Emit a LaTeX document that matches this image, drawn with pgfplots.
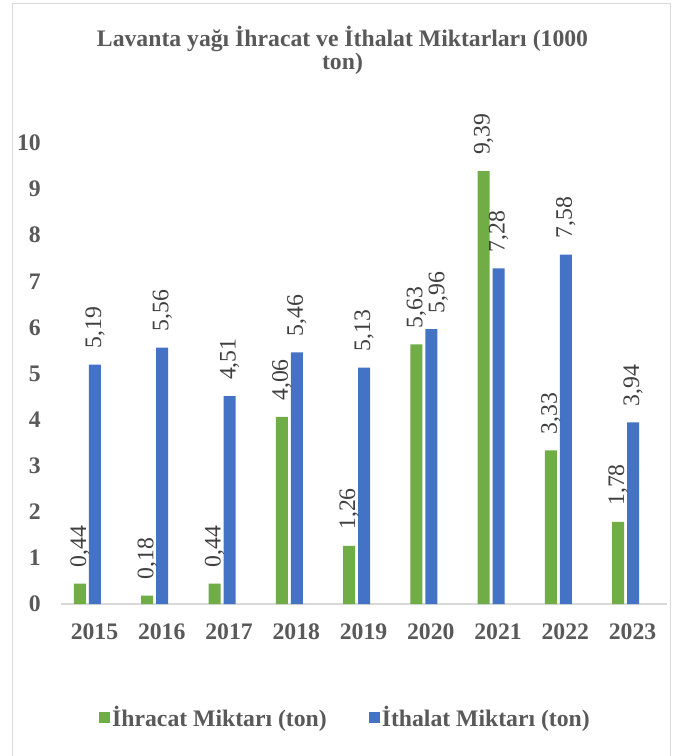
\documentclass[border=0pt]{standalone}
\usepackage{pgfplots}
\usepackage{pgfplotstable}
\pgfplotsset{compat=1.18}
\usepackage{fontspec}
\setmainfont{Liberation Serif}
\definecolor{grn}{HTML}{70AD47}
\definecolor{blu}{HTML}{4472C4}
\definecolor{txt}{HTML}{595959}
\definecolor{lbl}{HTML}{404040}
\definecolor{bord}{HTML}{D9D9D9}
\newcommand\F{\fontsize{23.7pt}{24pt}\selectfont}
\pgfplotsset{/pgfplots/ybar legend/.style={/pgfplots/legend image code/.code={\fill[##1] (0pt,-5.5pt) rectangle (11pt,5.5pt);}}}
\pgfplotstableread{
x y dx
0 0.44 0
1 0.18 0
2 0.44 0
3 4.06 0
4 1.26 0
5 5.63 0
6 9.39 0
7 3.33 0
8 1.78 0
}\ihracat
\pgfplotstableread{
x y dx
0 5.19 0
1 5.56 0
2 4.51 0
3 5.46 0
4 5.13 0
5 5.96 7
6 7.28 0
7 7.58 0
8 3.94 0
}\ithalat
\begin{document}
\begin{tikzpicture}
\useasboundingbox (0,0) rectangle (682pt,756pt);
\fill[white] (0,0) rectangle (682pt,756pt);
\draw[bord, line width=1.2pt] (12.5pt,-10pt) -- (12.5pt,752.5pt) -- (670.5pt,752.5pt) -- (670.5pt,-10pt);
\node[anchor=base, font=\F\bfseries, text=txt, inner sep=0pt] at (342.5pt,709pt) {Lavanta yağı İhracat ve İthalat Miktarları (1000};
\node[anchor=base, font=\F\bfseries, text=txt, inner sep=0pt] at (342.5pt,686pt) {ton)};
\begin{axis}[
  at={(61pt,152pt)}, anchor=south west, scale only axis,
  width=606pt, height=461pt,
  ybar=3pt, bar width=12pt,
  xmin=-0.394, xmax=8.617, ymin=0, ymax=10,
  clip=false,
  /pgf/number format/assume math mode=true,
  axis x line*=bottom, axis y line*=left,
  x axis line style={draw=bord, line width=1.5pt, -},
  y axis line style={draw=none},
  major tick length=0pt,
  xtick={0,...,8},
  xticklabels={2015,2016,2017,2018,2019,2020,2021,2022,2023},
  xticklabel style={font=\F\bfseries, text=txt, inner sep=0pt, yshift=-20pt, xshift=7pt},
  ytick={0,...,10},
  yticklabel style={font=\F\bfseries, text=txt, inner sep=0pt, xshift=-20pt, anchor=east},
  visualization depends on={\thisrow{dx} \as \dx},
  nodes near coords={\pgfmathprintnumber[fixed,fixed zerofill,precision=2,use comma,assume math mode=true]{\pgfplotspointmeta}},
  every node near coord/.append style={xshift=\dx pt, rotate=90, anchor=west, font=\F, text=lbl, inner xsep=16pt, inner ysep=0pt},
  legend style={at={(0.4695,-0.246)}, anchor=center, draw=none, fill=none,
    font=\F\bfseries, text=txt, legend columns=2, inner sep=0pt,
    /tikz/every even column/.append style={column sep=40pt}},
  legend cell align=left,
]
\addplot[fill=grn, draw=none] table[x=x, y=y] {\ihracat};
\addplot[fill=blu, draw=none] table[x=x, y=y] {\ithalat};
\legend{İhracat Miktarı (ton), İthalat Miktarı (ton)}
\end{axis}
\end{tikzpicture}
\end{document}
